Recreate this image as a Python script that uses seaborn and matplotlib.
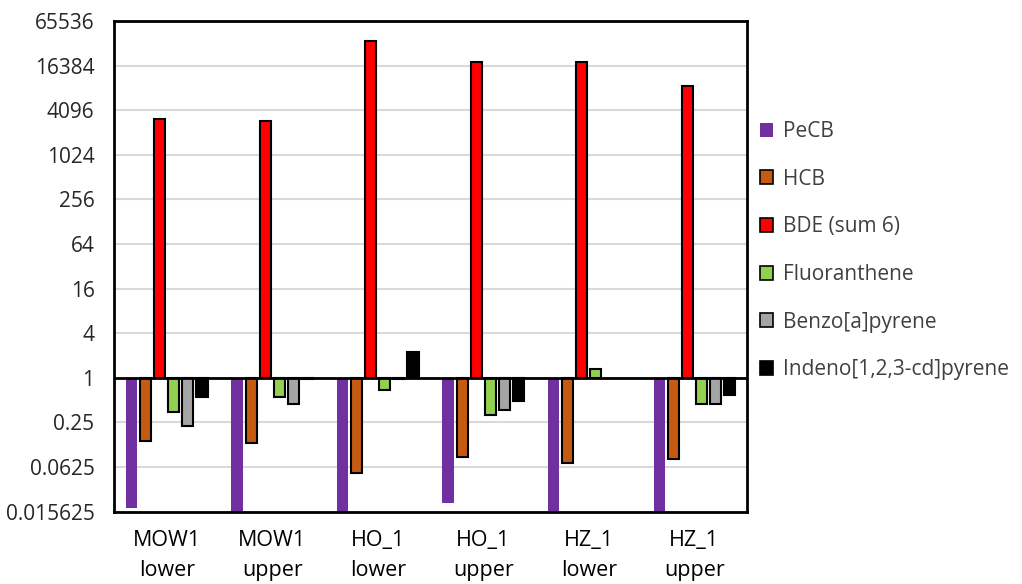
import numpy as np
import pandas as pd
import matplotlib
matplotlib.use('Agg')
import matplotlib.pyplot as plt
from matplotlib.patches import Patch
import seaborn as sns

# sample sites (x categories)
sites = ['MOW1\nlower', 'MOW1\nupper', 'HO_1\nlower', 'HO_1\nupper', 'HZ_1\nlower', 'HZ_1\nupper']

# ratios (1 = baseline)
pecb = [0.0176, 0.015, 0.015, 0.0206, 0.016, 0.015]
hcb = [0.142, 0.133, 0.052, 0.085, 0.071, 0.081]
bde = [3100, 2970, 35100, 18400, 18300, 8700]
fluoranthene = [0.344, 0.55, 0.68, 0.31, 1.31, 0.44]
benzo_a_pyrene = [0.222, 0.445, 0.95, 0.37, np.nan, 0.44]
indeno = [0.55, 0.95, 2.2, 0.49, np.nan, 0.59]

series_names = ['PeCB', 'HCB', 'BDE (sum 6)', 'Fluoranthene', 'Benzo[a]pyrene', 'Indeno[1,2,3-cd]pyrene']
series_colors = ['#7030A0', '#C55A11', '#FF0000', '#92D050', '#A5A5A5', '#000000']

y_ticks = [0.015625, 0.0625, 0.25, 1, 4, 16, 64, 256, 1024, 4096, 16384, 65536]

# long table, values on log2 axis so bars start at 1
rows = []
for name, vals in zip(series_names, [pecb, hcb, bde, fluoranthene, benzo_a_pyrene, indeno]):
    for site, v in zip(sites, vals):
        rows.append({'site': site, 'series': name, 'log2': np.log2(v)})
df = pd.DataFrame(rows)

sns.set_style('white')
plt.rcParams['font.family'] = ['Open Sans', 'DejaVu Sans']

fig = plt.figure(figsize=(10.22, 5.84), dpi=100)
ax = fig.add_axes([0.1115, 0.124, 0.6195, 0.840])

sns.barplot(data=df, x='site', y='log2', hue='series', order=sites, hue_order=series_names,
            palette=series_colors, width=0.8, gap=0.2, edgecolor='black', linewidth=1.5,
            saturation=1, legend=False, ax=ax)

# PeCB bars have no outline
for p in ax.containers[0]:
    p.set_edgecolor('none')

ax.set_ylim(np.log2(y_ticks[0]), np.log2(y_ticks[-1]))
ax.set_yticks(np.log2(y_ticks))
ax.set_yticklabels([f'{t:g}' for t in y_ticks])
ax.yaxis.grid(True, color='#D9D9D9', linewidth=1.5)
ax.set_axisbelow(True)
ax.axhline(0, color='black', linewidth=2)

for s in ax.spines.values():
    s.set_color('black')
    s.set_linewidth(2)

ax.tick_params(axis='y', length=0, labelsize=15, colors='#262626', pad=14)
ax.tick_params(axis='x', length=0, labelsize=15.5, colors='#000000', pad=13)
for t in ax.get_xticklabels():
    t.set_linespacing(1.58)
ax.set_xlabel('')
ax.set_ylabel('')

handles = [Patch(facecolor=c, edgecolor='none' if i == 0 else 'black', linewidth=1.2)
           for i, c in enumerate(series_colors)]
leg = fig.legend(handles, series_names, loc='upper left', bbox_to_anchor=(0.725, 0.825),
                 frameon=False, fontsize=15, labelspacing=1.28, handlelength=0.65,
                 handleheight=0.65, handletextpad=0.45)
for t in leg.get_texts():
    t.set_color('#404040')

fig.savefig('out.png', dpi=100)
